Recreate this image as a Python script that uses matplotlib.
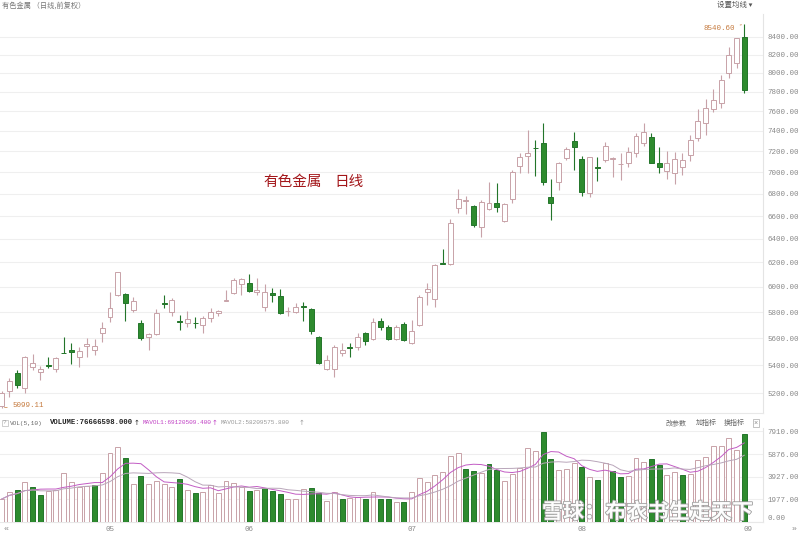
import numpy as np
import pandas as pd
import matplotlib
matplotlib.use("Agg")
import matplotlib.pyplot as plt
from matplotlib.ticker import FixedLocator, NullLocator, NullFormatter, FuncFormatter
import matplotlib.patheffects as pe

# ---------------- data ----------------
opens = [5110, 5218, 5342, 5235, 5385, 5349, 5404, 5370, 5493, 5515,
         5458, 5544, 5512, 5637, 5760, 5935, 5943, 5816, 5713, 5611,
         5632, 5872, 5803, 5730, 5713, 5718, 5700, 5752, 5790, 5888,
         5949, 6021, 6029, 5955, 5838, 5954, 5930, 5806, 5798, 5845,
         5822, 5607, 5370, 5370, 5488, 5532, 5537, 5637, 5592, 5731,
         5682, 5592, 5707, 5567, 5700, 5962, 5903, 6194, 6185, 6669,
         6736, 6689, 6501, 6660, 6718, 6558, 6753, 7059, 7155, 7232,
         7278, 6768, 6911, 7133, 7301, 7123, 6805, 7045, 7116, 7130,
         7076, 7090, 7180, 7278, 7344, 7090, 7015, 6991, 7047, 7164,
         7327, 7483, 7619, 7687, 7997, 8112, 8393]
highs = [5215, 5310, 5365, 5470, 5480, 5394, 5458, 5462, 5607, 5562,
         5532, 5599, 5596, 5726, 5957, 6125, 5949, 5917, 5739, 5637,
         5824, 5935, 5909, 5776, 5811, 5760, 5769, 5830, 5816, 5975,
         6075, 6070, 6105, 6075, 6021, 5989, 5981, 5842, 5874, 5882,
         5830, 5617, 5475, 5549, 5562, 5567, 5637, 5649, 5752, 5752,
         5700, 5700, 5726, 5739, 5935, 6034, 6189, 6311, 6574, 6841,
         6780, 6698, 6744, 6911, 6896, 6718, 7022, 7186, 7410, 7310,
         7483, 6933, 7100, 7245, 7393, 7155, 7148, 7142, 7294, 7148,
         7186, 7245, 7377, 7483, 7377, 7239, 7206, 7196, 7186, 7360,
         7620, 7722, 7825, 7978, 8288, 8390, 8540.60]
lows = [5099.11, 5176, 5235, 5200, 5365, 5294, 5378, 5353, 5488, 5409,
        5385, 5462, 5475, 5574, 5726, 5930, 5731, 5803, 5587, 5512,
        5624, 5830, 5769, 5662, 5682, 5674, 5637, 5726, 5769, 5886,
        5943, 5935, 5962, 5935, 5811, 5882, 5785, 5771, 5790, 5734,
        5632, 5410, 5365, 5317, 5467, 5458, 5512, 5549, 5587, 5662,
        5587, 5585, 5581, 5557, 5690, 5856, 5843, 6190, 6180, 6628,
        6622, 6501, 6414, 6654, 6639, 6549, 6718, 6991, 6991, 6968,
        6881, 6565, 6834, 7116, 7022, 6780, 6774, 6921, 7094, 6957,
        6928, 7049, 7148, 7251, 7085, 6991, 6933, 6890, 6975, 7110,
        7304, 7360, 7594, 7629, 7950, 8050, 7785]
closes = [5205, 5289, 5258, 5458, 5414, 5370, 5393, 5451, 5490, 5500,
          5504, 5554, 5542, 5680, 5830, 6119, 5869, 5890, 5599, 5630,
          5790, 5866, 5895, 5724, 5747, 5714, 5752, 5803, 5809, 5892,
          6056, 6062, 5970, 5978, 5957, 5935, 5795, 5812, 5838, 5840,
          5654, 5414, 5438, 5532, 5512, 5526, 5611, 5581, 5726, 5682,
          5592, 5687, 5587, 5657, 5922, 5983, 6175, 6190, 6536, 6753,
          6740, 6521, 6727, 6713, 6683, 6707, 7006, 7148, 7180, 7228,
          6911, 6718, 7085, 7220, 7239, 6819, 7142, 7038, 7254, 7135,
          7080, 7196, 7350, 7393, 7090, 7047, 7085, 7123, 7116, 7311,
          7500, 7629, 7714, 7925, 8196, 8382, 7819]
# volume in units of 10k (万)
volumes = [1981, 2623, 2768, 3497, 3001, 2331, 2681, 2768, 4225, 3497,
           3060, 3118, 3205, 4225, 5974, 6557, 5537, 3293, 3992, 3264,
           3555, 3293, 3001, 3730, 2768, 2535, 2564, 3205, 2477, 3584,
           3351, 3001, 2681, 2768, 2972, 2681, 2419, 1981, 1981, 2856,
           2914, 2477, 1807, 2564, 1952, 2040, 2186, 1981, 2623, 1981,
           1981, 1748, 1690, 2564, 3846, 3438, 4080, 4371, 5741, 5974,
           4604, 4429, 4225, 5012, 4517, 3555, 4167, 4721, 6411, 6178,
           7868, 5478, 4517, 4575, 5100, 4808, 3876, 3643, 5100, 4429,
           3876, 3992, 5537, 5245, 5449, 4954, 4080, 4371, 4080, 4138,
           5391, 5682, 6615, 6615, 7285, 6265, 7666.6598]
month_labels = ["05", "06", "07", "08", "09"]
month_pos = [14, 32, 53, 75, 96.5]
price_ticks = [5200, 5400, 5600, 5800, 6000, 6200, 6400, 6600, 6800,
               7000, 7200, 7400, 7600, 7800, 8000, 8200, 8400]
vol_ticks = [0, 1977, 3927, 5876, 7910]

# ---------------- style ----------------
W, H = 800, 536
UP_EDGE = "#c8a2a8"
DN_FACE = "#2e8b2e"
DN_EDGE = "#23752a"
GRID = "#efefef"
AXC = "#888888"
NUMFONT = ["Liberation Mono", "DejaVu Sans"]
CJK = ["Noto Sans CJK SC", "DejaVu Sans"]

fig = plt.figure(figsize=(W / 100, H / 100), dpi=100)
fig.patch.set_facecolor("white")


def fx(px):
    return px / W


def fy(py):
    return 1 - py / H


def ftext(x, y, s, **kw):
    return fig.text(fx(x), fy(y), s, **kw)


x_right = 763
ax = fig.add_axes([0, fy(413), fx(x_right), fy(14) - fy(413)])
vax = fig.add_axes([0, fy(521.7), fx(x_right), fy(428) - fy(521.7)], sharex=ax)

o = np.array(opens, float)
h = np.array(highs, float)
l = np.array(lows, float)
c = np.array(closes, float)
v = np.array(volumes, float)
n = len(o)
xs = np.arange(n)
rise = c >= o

# ---------------- candles ----------------
wick_colors = [UP_EDGE if r else DN_EDGE for r in rise]
ax.vlines(xs, l, h, colors=wick_colors, linewidth=0.8, zorder=2)
body_bottom = np.minimum(o, c)
body_h = np.maximum(np.abs(c - o), 0.5)
ax.bar(xs, body_h, bottom=body_bottom, width=0.64,
       color=["white" if r else DN_FACE for r in rise],
       edgecolor=[UP_EDGE if r else DN_EDGE for r in rise],
       linewidth=0.7, zorder=3)

ax.set_yscale("log")
ax.set_ylim(5064, 8660)
ax.set_xlim(-0.22, 98.42)
ax.yaxis.set_major_locator(FixedLocator(price_ticks))
ax.yaxis.set_minor_locator(NullLocator())
ax.yaxis.set_minor_formatter(NullFormatter())
ax.yaxis.set_major_formatter(FuncFormatter(lambda val, p: f"{val:.2f}"))
ax.yaxis.tick_right()
ax.tick_params(axis="y", length=0, pad=3, labelsize=5.4, labelcolor=AXC)
for t in ax.get_yticklabels():
    t.set_fontfamily(NUMFONT)
ax.tick_params(axis="x", bottom=False, labelbottom=False)
ax.grid(axis="y", color=GRID, linewidth=0.8)
ax.set_axisbelow(True)
for s in ["top", "left"]:
    ax.spines[s].set_visible(False)
ax.spines["right"].set_color("#e4e4e4")
ax.spines["bottom"].set_color("#e8e8e8")
ax.spines["right"].set_linewidth(0.8)
ax.spines["bottom"].set_linewidth(0.8)

# extreme annotations
ihi = int(np.argmax(h))
ilo = int(np.argmin(l))
ax.annotate(f"{h[ihi]:.2f}", xy=(xs[ihi], h[ihi]), xytext=(-7, -3),
            textcoords="offset points", ha="right", va="center",
            fontsize=5.4, color="#c57a3e", family=NUMFONT,
            arrowprops=dict(arrowstyle="-", color="#c57a3e", lw=0.5))
ax.annotate(f"{l[ilo]:.2f}", xy=(xs[ilo], l[ilo]), xytext=(8, 2),
            textcoords="offset points", ha="left", va="center",
            fontsize=5.4, color="#c57a3e", family=NUMFONT,
            arrowprops=dict(arrowstyle="-", color="#c57a3e", lw=0.5))

# ---------------- volume ----------------
vol_up = np.concatenate([[True], c[1:] >= c[:-1]])
vax.bar(xs, v, width=0.64,
        color=["white" if u else DN_FACE for u in vol_up],
        edgecolor=[UP_EDGE if u else DN_EDGE for u in vol_up],
        linewidth=0.7, zorder=3)
ma5 = pd.Series(v).rolling(5, min_periods=1).mean()
ma10 = pd.Series(v).rolling(10, min_periods=1).mean()
vax.plot(xs, ma5, color="#c25cc4", linewidth=0.7, zorder=4)
vax.plot(xs, ma10, color="#b9a6ba", linewidth=0.7, zorder=4)
vax.set_ylim(0, 8191)
vax.yaxis.set_major_locator(FixedLocator(vol_ticks))
vax.yaxis.set_major_formatter(FuncFormatter(lambda val, p: f"{val:.2f}"))
vax.yaxis.tick_right()
vax.tick_params(axis="y", length=0, pad=3, labelsize=5.4, labelcolor=AXC)
for t in vax.get_yticklabels():
    t.set_fontfamily(NUMFONT)
vax.get_yticklabels()[0].set_va("bottom")
vax.set_xticks(month_pos)
vax.set_xticklabels(month_labels)
vax.tick_params(axis="x", length=0, pad=3, labelsize=5.4, labelcolor=AXC)
for t in vax.get_xticklabels():
    t.set_fontfamily(NUMFONT)
vax.grid(axis="y", color=GRID, linewidth=0.8)
vax.set_axisbelow(True)
for s in ["top", "left"]:
    vax.spines[s].set_visible(False)
vax.spines["right"].set_color("#e4e4e4")
vax.spines["bottom"].set_color("#e8e8e8")
vax.spines["right"].set_linewidth(0.8)
vax.spines["bottom"].set_linewidth(0.8)

# ---------------- texts ----------------
ftext(2, 6, "有色金属 （日线,前复权）", fontsize=5.2, color="#777777",
      va="center", ha="left", family=CJK)
ftext(752, 5, "设置均线 ▾", fontsize=5.4, color="#555555",
      va="center", ha="right", family=CJK)
ftext(263, 182, "有色金属", fontsize=10.5, color="#a3161a",
      va="center", ha="left", family=CJK)
ftext(334, 182, "日线", fontsize=10.5, color="#a3161a",
      va="center", ha="left", family=CJK)

ftext(5, 423, "?", fontsize=4.5, color="#999999", va="center", ha="center",
      family=NUMFONT,
      bbox=dict(boxstyle="square,pad=0.15", fc="white", ec="#bbbbbb", lw=0.5))
ftext(10, 423, "VOL(5,10)", fontsize=4.4, color="#666666", va="center",
      ha="left", family=NUMFONT)
ftext(50, 423, "VOLUME:76666598.000", fontsize=5.2, color="#222222",
      va="center", ha="left", family=NUMFONT, weight="bold")
ftext(137, 423, "↑", fontsize=5.0, color="#222222", va="center",
      ha="center", family=["DejaVu Sans"])
ftext(143, 423, "MAVOL1:69120509.400", fontsize=4.4, color="#c040c4",
      va="center", ha="left", family=NUMFONT)
ftext(215, 423, "↑", fontsize=5.0, color="#c040c4", va="center",
      ha="center", family=["DejaVu Sans"])
ftext(221, 423, "MAVOL2:58209575.800", fontsize=4.4, color="#999999",
      va="center", ha="left", family=NUMFONT)
ftext(302, 423, "↑", fontsize=5.0, color="#999999", va="center",
      ha="center", family=["DejaVu Sans"])
ftext(666, 423, "改参数", fontsize=5.0, color="#666666", va="center",
      ha="left", family=CJK)
ftext(696, 423, "加指标", fontsize=5.0, color="#666666", va="center",
      ha="left", family=CJK)
ftext(724, 423, "换指标", fontsize=5.0, color="#666666", va="center",
      ha="left", family=CJK)
ftext(756, 423, "×", fontsize=5.0, color="#888888", va="center",
      ha="center", family=NUMFONT,
      bbox=dict(boxstyle="square,pad=0.1", fc="white", ec="#aaaaaa", lw=0.5))

ftext(3, 530, "«", fontsize=6, color="#888888", va="center", ha="left",
      family=NUMFONT)
ftext(797, 530, "»", fontsize=6, color="#888888", va="center", ha="right",
      family=NUMFONT)

wm = ftext(542, 512, "雪球：布衣书生走天下", fontsize=15.2, color="white",
           va="center", ha="left", family=CJK, weight="bold", alpha=0.95)
wm.set_path_effects([pe.withStroke(linewidth=1.2, foreground="#9a9a9a")])

fig.savefig("out.png", dpi=100, facecolor="white")
